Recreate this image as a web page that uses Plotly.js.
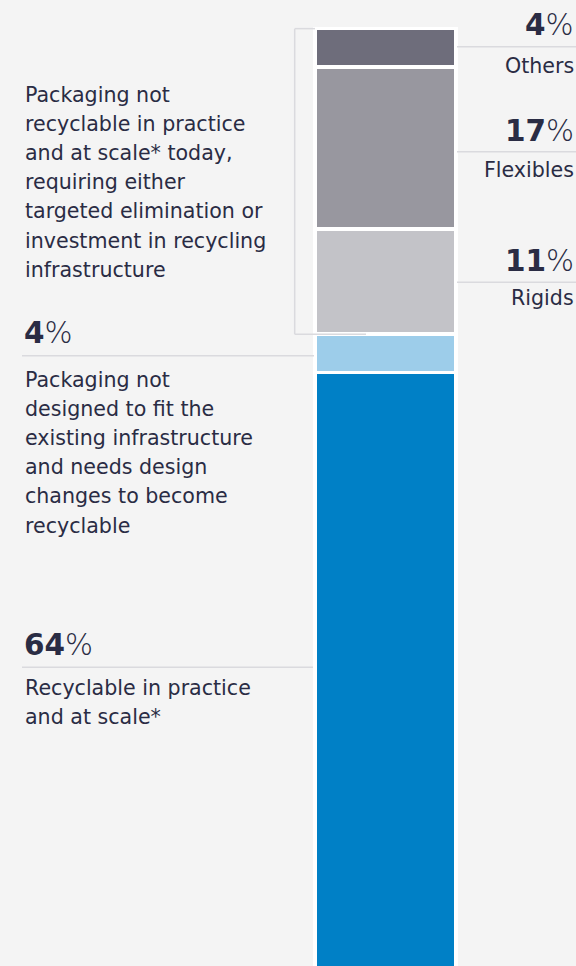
<!DOCTYPE html>
<html>
<head>
<meta charset="utf-8">
<script src="https://cdn.plot.ly/plotly-3.0.1.min.js"></script>
<style>
  html, body { margin: 0; padding: 0; background: #f4f4f4; }
  #chart { width: 576px; height: 966px; }
</style>
</head>
<body>
<div id="chart"></div>
<script>
// ---- data (bottom to top of the stacked bar) ----
const categories = ['Recyclable in practice and at scale*', 'Design changes needed', 'Rigids', 'Flexibles', 'Others'];
const values = [64, 4, 11, 17, 4];
const barColors = ['#0080c6', '#9dcdea', '#c3c3c8', '#98979f', '#6e6d7b'];

// text blocks
const rightNames = ['Others', 'Flexibles', 'Rigids'];
const rightValues = [4, 17, 11];
const leftTopLines = ['Packaging not', 'recyclable in practice', 'and at scale* today,', 'requiring either', 'targeted elimination or', 'investment in recycling', 'infrastructure'];
const leftMidValue = 4;
const leftMidLines = ['Packaging not', 'designed to fit the', 'existing infrastructure', 'and needs design', 'changes to become', 'recyclable'];
const leftBotValue = 64;
const leftBotLines = ['Recyclable in practice', 'and at scale*'];

// ---- geometry helpers ----
const W = 576, H = 966;
const TXT = '#2a2c44';
const LINE = '#dadade';
const bodyFont = {family: 'DejaVu Sans, sans-serif', size: 20.6, color: TXT};
const bigFont = {family: 'DejaVu Sans, sans-serif', size: 29.5, color: TXT};
const BODY_OFF = 7.1, BIG_OFF = 10.2;
const py = p => 1 - p / H;

const traces = categories.map((c, i) => ({
  type: 'bar',
  name: c,
  x: [385.5],
  y: [values[i]],
  width: [141],
  marker: {color: barColors[i], line: {color: '#ffffff', width: 3.5}},
  hoverinfo: 'skip'
}));

const annotations = [];
function txt(text, x, baseline, anchor, font, off) {
  annotations.push({
    xref: 'paper', yref: 'paper', x: x / W, y: py(baseline - off),
    xanchor: anchor, yanchor: 'middle', text: text, showarrow: false,
    font: font, align: anchor
  });
}
function pct(v) { return '<b>' + v + '</b><span style="font-weight:200">%</span>'; }

const shapes = [];
function hline(x0, x1, p) {
  shapes.push({type: 'line', xref: 'paper', yref: 'paper', x0: x0 / W, x1: x1 / W, y0: py(p), y1: py(p), line: {color: LINE, width: 1.5}});
}

// right labels
const rPctBase = [35, 140.7, 270.7];
const rNameBase = [73.3, 176.7, 305];
const rLine = [46.7, 151.7, 282.3];
rightNames.forEach((n, i) => {
  txt(pct(rightValues[i]), 576, rPctBase[i], 'right', bigFont, BIG_OFF);
  txt(n, 576, rNameBase[i], 'right', bodyFont, BODY_OFF);
  hline(457, 576, rLine[i]);
});

// left blocks
leftTopLines.forEach((l, i) => txt(l, 23, 101.7 + i * 29.2, 'left', bodyFont, BODY_OFF));
txt(pct(leftMidValue), 22, 343.3, 'left', bigFont, BIG_OFF);
hline(22, 314, 355.7);
leftMidLines.forEach((l, i) => txt(l, 23, 386.7 + i * 29.2, 'left', bodyFont, BODY_OFF));
txt(pct(leftBotValue), 22, 655, 'left', bigFont, BIG_OFF);
hline(22, 313, 667.3);
leftBotLines.forEach((l, i) => txt(l, 23, 695 + i * 29.5, 'left', bodyFont, BODY_OFF));

// bracket around the not-recyclable group (data coords)
const groupTop = values.reduce((a, b) => a + b, 0);
const groupBottom = values[0] + values[1];
const bx = 294.7;
shapes.push({type: 'line', xref: 'x', yref: 'y', x0: bx, x1: bx, y0: groupBottom, y1: groupTop, line: {color: LINE, width: 1.5}});
shapes.push({type: 'line', xref: 'x', yref: 'y', x0: bx, x1: 315, y0: groupTop, y1: groupTop, line: {color: LINE, width: 1.5}});
shapes.push({type: 'line', xref: 'x', yref: 'y', x0: bx, x1: 366, y0: groupBottom, y1: groupBottom, line: {color: LINE, width: 1.5}});

const layout = {
  width: W, height: H,
  margin: {l: 0, r: 0, t: 0, b: 0},
  paper_bgcolor: '#f4f4f4', plot_bgcolor: '#f4f4f4',
  barmode: 'stack', showlegend: false,
  xaxis: {range: [0, 576], visible: false, fixedrange: true},
  yaxis: {range: [1.83, 103.0], visible: false, fixedrange: true},
  annotations: annotations, shapes: shapes
};

Plotly.newPlot('chart', traces, layout, {displayModeBar: false, staticPlot: true});
</script>
</body>
</html>
